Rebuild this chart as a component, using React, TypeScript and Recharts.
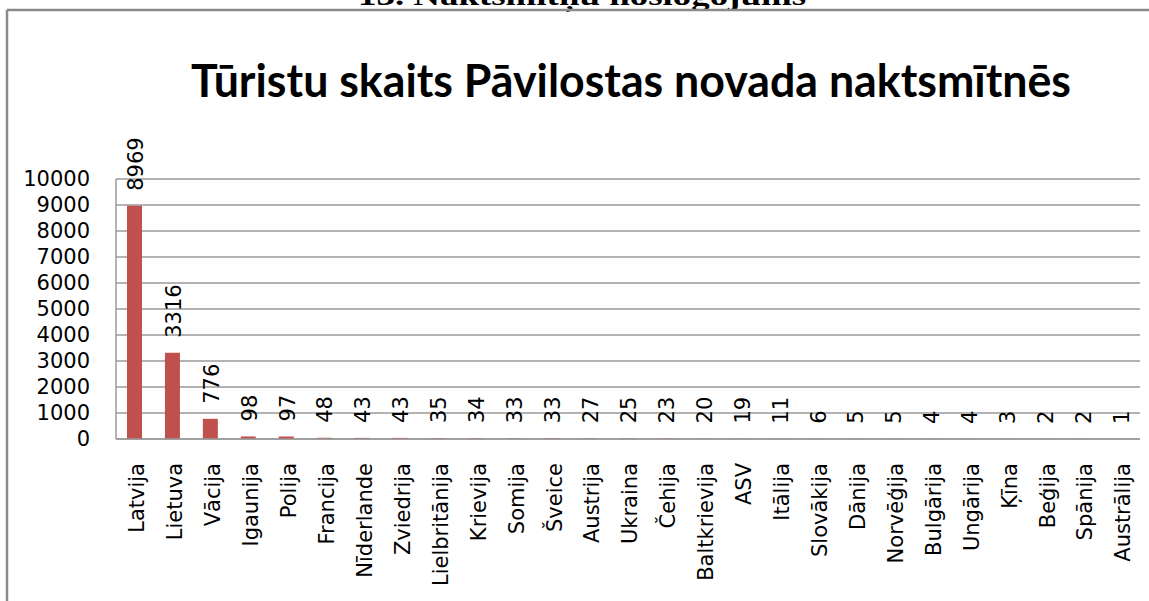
import React from 'react';
import { BarChart, Bar, XAxis, YAxis, CartesianGrid, LabelList } from 'recharts';

const countries = [
  'Latvija', 'Lietuva', 'Vācija', 'Igaunija', 'Polija', 'Francija', 'Nīderlande',
  'Zviedrija', 'Lielbritānija', 'Krievija', 'Somija', 'Šveice', 'Austrija', 'Ukraina',
  'Čehija', 'Baltkrievija', 'ASV', 'Itālija', 'Slovākija', 'Dānija', 'Norvēģija',
  'Bulgārija', 'Ungārija', 'Ķīna', 'Beģija', 'Spānija', 'Austrālija',
];
const tourists = [
  8969, 3316, 776, 98, 97, 48, 43, 43, 35, 34, 33, 33, 27, 25, 23, 20, 19, 11, 6, 5, 5,
  4, 4, 3, 2, 2, 1,
];
const yTicks = [0, 1000, 2000, 3000, 4000, 5000, 6000, 7000, 8000, 9000, 10000];
const chartTitle = 'Tūristu skaits Pāvilostas novada naktsmītnēs';
const headerText = '13. Naktsmītņu noslogojums';

const data = countries.map((c, i) => ({ name: c, value: tourists[i] }));

const NUM_FONT = '"DejaVu Sans", Verdana, sans-serif';

const XTick = (props: any) => {
  const { x, y, payload } = props;
  return (
    <text
      transform={`translate(${x + 2},${y + 16}) rotate(-90)`}
      textAnchor="end"
      dy="0.35em"
      fontFamily={NUM_FONT}
      fontSize={21}
      fill="#000"
    >
      {payload.value}
    </text>
  );
};

const ValueLabel = (props: any) => {
  const { x, y, width, value } = props;
  const cx = x + width / 2;
  return (
    <text
      transform={`translate(${cx + 1},${y - 15}) rotate(-90)`}
      textAnchor="start"
      dy="0.35em"
      fontFamily={NUM_FONT}
      fontSize={21}
      fill="#000"
    >
      {value}
    </text>
  );
};

export default function App() {
  return (
    <div style={{ position: 'absolute', left: 0, top: 0, width: 1149, height: 601, background: '#fff', overflow: 'hidden' }}>
      <BarChart
        width={1149}
        height={601}
        data={data}
        margin={{ top: 179, right: 9, left: 0, bottom: 0 }}
        barCategoryGap={0}
      >
        <CartesianGrid vertical={false} stroke="#9a9a9a" strokeWidth={1.5} />
        <XAxis
          dataKey="name"
          height={162}
          interval={0}
          tickLine={false}
          axisLine={{ stroke: '#9a9a9a', strokeWidth: 1.5 }}
          tick={<XTick />}
        />
        <YAxis
          width={116}
          domain={[0, 10000]}
          ticks={yTicks}
          interval={0}
          tickLine={false}
          tickSize={0}
          tickMargin={26}
          axisLine={{ stroke: '#9a9a9a', strokeWidth: 1.5 }}
          tick={{ fontFamily: NUM_FONT, fontSize: 21, fill: '#000' }}
        />
        <Bar dataKey="value" fill="#C0504D" barSize={15} minPointSize={0} isAnimationActive={false}>
          <LabelList dataKey="value" content={<ValueLabel />} />
        </Bar>
      </BarChart>
      <svg
        width={1149}
        height={601}
        style={{ position: 'absolute', left: 0, top: 0, pointerEvents: 'none' }}
      >
        <text
          x={358}
          y={5}
          textLength={448}
          lengthAdjust="spacingAndGlyphs"
          fontFamily='"Liberation Serif", "Times New Roman", serif'
          fontWeight="bold"
          fontSize={28}
          fill="#000"
        >
          {headerText}
        </text>
        <line x1={7} y1={10} x2={1149} y2={10} stroke="#8a8a8a" strokeWidth={2.5} />
        <line x1={7} y1={10} x2={7} y2={601} stroke="#8a8a8a" strokeWidth={2.5} />
        <text
          x={191}
          y={97}
          textLength={880}
          lengthAdjust="spacingAndGlyphs"
          fontFamily='Lato, "Open Sans", sans-serif'
          fontWeight="bold"
          fontSize={45}
          fill="#000"
        >
          {chartTitle}
        </text>
      </svg>
    </div>
  );
}
